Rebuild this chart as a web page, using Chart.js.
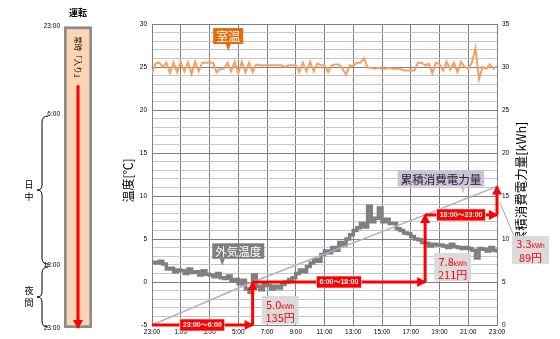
<!DOCTYPE html>
<html><head><meta charset="utf-8">
<script src="https://cdn.jsdelivr.net/npm/chart.js@4.4.0/dist/chart.umd.min.js"></script>
<style>
html,body{margin:0;padding:0;background:#fff;width:560px;height:339px;overflow:hidden}
#pc{position:absolute;left:0;top:0}
#mc{position:absolute;left:110px;top:0}
</style></head><body>
<canvas id="pc" width="110" height="339"></canvas>
<canvas id="mc" width="450" height="339"></canvas>
<script>
// ---------- data ----------
const xTickLabels = ['23:00','1:00','3:00','5:00','7:00','9:00','11:00','13:00','15:00','17:00','19:00','21:00','23:00'];
// 15-minute samples starting 23:00
const roomTemp = [24.3,25.4,25.5,25.0, 25.5,24.3,25.5,24.4, 25.6,24.5,25.5,24.2, 25.6,24.5,25.5,25.5,
  25.5,25.5,24.4,24.8, 24.8,25.5,24.5,25.6, 24.3,25.6,24.4,25.5, 24.4,25.3,25.2,25.2,
  25.2,25.2,25.2,25.2, 25.2,25.0,25.2,25.2, 25.2,24.4,25.5,24.5, 25.6,24.5,25.4,25.2,
  25.2,24.4,25.2,25.3, 25.3,24.8,24.1,25.2, 25.1,25.5,25.5,26.0, 24.9,24.9,24.8,24.9,
  24.8,24.8,24.9,24.8, 24.8,24.8,24.6,24.6, 24.6,24.6,25.5,25.5, 25.2,25.4,24.3,25.5,
  25.3,24.6,25.6,24.7, 25.5,24.4,25.6,25.0, 24.8,25.5,27.2,23.6, 25.0,24.8,25.3,24.8, 25.1];
const outdoorTemp = [2.3,2.2,2.4,2.1, 1.5,1.6,1.2,1.4, 1.3,1.0,1.5,1.1, 1.2,0.8,1.3,0.9,
  0.8,0.6,1.0,0.5, 0.4,0.7,0.1,0.3, -0.2,0.2,-0.8,-1.2, 0.8,-0.5,-0.9,-0.3,
  -0.4,-0.8,-0.5,-0.7, -0.3,0.0,0.3,0.5, 1.0,1.4,1.2,1.8, 2.2,2.6,2.4,3.2,
  3.6,3.4,4.0,3.7, 4.6,4.3,5.0,5.5, 6.0,6.3,6.8,6.4, 8.8,7.0,7.4,8.6,
  7.0,7.3,6.8,6.8, 6.2,6.0,5.7,5.6, 5.3,5.0,4.9,4.6, 4.5,4.2,4.4,4.3,
  4.3,4.2,4.0,4.4, 4.1,4.0,3.9,4.0, 3.9,3.7,2.8,3.9, 3.8,3.6,4.0,3.7, 3.4];
const periodLabels = ['23:00〜6:00','6:00〜18:00','18:00〜23:00'];
const periodStart = [0, 7, 19];   // hours after 23:00
const periodEnd = [7, 19, 24];
const periodKWh = [5.0, 7.8, 3.3];
const periodCost = [135, 211, 89];
// left panel
const panelTicks = [0, 7, 19, 24];
const panelTickLabels = ['23:00','6:00','18:00','23:00'];
const panelOnSpan = [0, 24];
const panelArrow = [4.7, 24];

// ---------- derived ----------
const cum = [0];
periodKWh.forEach((v,i)=>cum.push(Math.round((cum[i]+v)*10)/10));
const sampleH = i => i/4;
const cjk = "'Noto Sans CJK JP', sans-serif";
const latin = "'Liberation Sans', 'Noto Sans CJK JP', sans-serif";
const RED = '#FF0000';

function arrowHeads(chart){
  const ctx = chart.ctx;
  chart.data.datasets.forEach((ds,i)=>{
    if(!ds.arrowHead) return;
    const pts = chart.getDatasetMeta(i).data;
    const a = pts[pts.length-2], b = pts[pts.length-1];
    const ang = Math.atan2(b.y-a.y, b.x-a.x);
    ctx.save();
    ctx.translate(b.x,b.y); ctx.rotate(ang);
    ctx.fillStyle = ds.borderColor;
    ctx.beginPath(); ctx.moveTo(1,0); ctx.lineTo(-8,-5); ctx.lineTo(-8,5); ctx.closePath(); ctx.fill();
    ctx.restore();
  });
}

// ---------- main chart ----------
const arrowSets = [];
for(let i=0;i<3;i++){
  arrowSets.push({data:[{x:periodStart[i],y:cum[i]},{x:periodEnd[i],y:cum[i]}], yAxisID:'y2',
    borderColor:RED, borderWidth:3, pointRadius:0, clip:false, arrowHead:true});
  arrowSets.push({data:[{x:periodEnd[i],y:cum[i]},{x:periodEnd[i],y:cum[i+1]}], yAxisID:'y2',
    borderColor:RED, borderWidth:3, pointRadius:0, clip:false, arrowHead:true});
}

const seriesTags = [
  {text:'室温', axis:'y', x:5.3, y:28.6, bg:'#E46C0A', fg:'#fff', size:12, tail:0},
  {text:'外気温度', axis:'y', x:6.0, y:3.6, bg:'#7F7F7F', fg:'#fff', size:11.5, tail:-16},
  {text:'累積消費電力量', axis:'y2', x:20.1, y:17.0, bg:'#CCC0DA', fg:'#222', size:11.5, tail:22}
];
const calloutPos = [{dx:9,dy:-15},{dx:9,dy:-15},{dx:15,dy:35}];

const mainPlugin = {
  id:'mainDeco',
  afterDatasetsDraw(chart){
    const ctx = chart.ctx, xs = chart.scales.x, ys = chart.scales.y, y2 = chart.scales.y2;
    const ca = chart.chartArea;
    arrowHeads(chart);
    ctx.save();
    // axis titles (both read bottom-to-top)
    ctx.fillStyle='#000'; ctx.textAlign='center'; ctx.textBaseline='middle';
    const mid = (ca.top+ca.bottom)/2;
    ctx.save(); ctx.translate(ca.left-24, mid+6); ctx.rotate(-Math.PI/2);
    ctx.font = "12px "+cjk; ctx.fillText('温度[℃]',0,0); ctx.restore();
    ctx.save(); ctx.translate(ca.right+24, mid+8); ctx.rotate(-Math.PI/2);
    ctx.font = "12.5px "+cjk; ctx.fillText('累積消費電力量[kWh]',0,0); ctx.restore();
    // period labels on arrows
    ctx.textAlign='center'; ctx.textBaseline='middle';
    for(let i=0;i<3;i++){
      const cx = xs.getPixelForValue((periodStart[i]+periodEnd[i])/2);
      const cy = y2.getPixelForValue(cum[i]);
      ctx.font = "bold 7px "+latin;
      const w = ctx.measureText(periodLabels[i]).width + 6;
      ctx.fillStyle = RED; ctx.fillRect(cx-w/2, cy-6, w, 12);
      ctx.strokeStyle='#fff'; ctx.lineWidth=0.6; ctx.strokeRect(cx-w/2, cy-6, w, 12);
      ctx.fillStyle = '#fff'; ctx.fillText(periodLabels[i], cx, cy+0.5);
    }
    // callouts
    for(let i=0;i<3;i++){
      const p = calloutPos[i];
      const left = xs.getPixelForValue(periodEnd[i]) + p.dx;
      const cy = y2.getPixelForValue(cum[i]) + p.dy;
      const w = 37, h = 28;
      if(i===2){
        ctx.strokeStyle='#A6A6A6'; ctx.lineWidth=1;
        ctx.beginPath(); ctx.moveTo(xs.getPixelForValue(periodEnd[i])+3, y2.getPixelForValue(cum[i])-12);
        ctx.lineTo(left+2, cy-h/2); ctx.stroke();
      }
      ctx.fillStyle='rgba(217,217,217,0.95)'; ctx.fillRect(left, cy-h/2, w, h);
      ctx.fillStyle=RED; ctx.textBaseline='alphabetic'; ctx.textAlign='left';
      const t1 = periodKWh[i].toFixed(1);
      ctx.font = "11px "+cjk; const w1 = ctx.measureText(t1).width;
      ctx.font = "6.5px "+latin; const w2 = ctx.measureText('kWh').width;
      let sx = left + (w-w1-w2)/2;
      ctx.font = "11px "+cjk; ctx.fillText(t1, sx, cy-1.5);
      ctx.font = "6.5px "+latin; ctx.fillText('kWh', sx+w1, cy-1.5);
      ctx.font = "11px "+cjk; ctx.textAlign='center';
      ctx.fillText(periodCost[i]+'円', left+w/2, cy+12);
    }
    // series tags
    seriesTags.forEach(t=>{
      const sc = t.axis==='y'?ys:y2;
      const cx = xs.getPixelForValue(t.x), cy = sc.getPixelForValue(t.y);
      ctx.font = t.size+"px "+cjk;
      const w = ctx.measureText(t.text).width + 6, h = t.size + 4;
      ctx.fillStyle = t.bg;
      ctx.fillRect(cx-w/2, cy-h/2, w, h);
      ctx.beginPath(); ctx.moveTo(cx+t.tail-2.5, cy+h/2); ctx.lineTo(cx+t.tail+2.5, cy+h/2); ctx.lineTo(cx+t.tail, cy+h/2+7); ctx.closePath(); ctx.fill();
      ctx.fillStyle = t.fg; ctx.textAlign='center'; ctx.textBaseline='middle';
      ctx.fillText(t.text, cx, cy+0.5);
    });
    ctx.restore();
  }
};

new Chart(document.getElementById('mc'), {
  type:'line',
  data:{datasets:[
    ...arrowSets,
    {data:cum.map((v,i)=>({x:[0,...periodEnd][i], y:v})), yAxisID:'y2', borderColor:'#B7A9CC', borderWidth:1.5, pointRadius:0},
    {data:outdoorTemp.map((v,i)=>({x:sampleH(i), y:v})), yAxisID:'y', borderColor:'#7F7F7F', borderWidth:3.5, pointRadius:0, stepped:true},
    {data:roomTemp.map((v,i)=>({x:sampleH(i), y:v})), yAxisID:'y', borderColor:'#F5A063', borderWidth:2, pointRadius:0}
  ]},
  options:{
    responsive:false, animation:false, devicePixelRatio:1,
    layout:{padding:{top:24,right:27,bottom:0,left:0}},
    plugins:{legend:{display:false}, tooltip:{enabled:false}},
    scales:{
      x:{type:'linear', min:0, max:24,
        ticks:{stepSize:2, autoSkip:false, maxRotation:0, callback:v=>xTickLabels[v/2], font:{size:6.5,family:latin}, color:'#000', padding:3},
        grid:{color:'#808080', drawTicks:false}, border:{color:'#808080'},
        afterFit(s){s.height=14;}},
      y:{min:-5, max:30,
        ticks:{stepSize:1, autoSkip:false, callback:v=>v%5===0?String(v):'', font:{size:6.5,family:latin}, color:'#000', padding:5},
        grid:{color:c=>(c.tick && c.tick.value%5===0)?'#808080':'#C6C6C6', drawTicks:false}, border:{color:'#808080'},
        afterFit(s){s.width=42;}},
      y2:{position:'right', min:0, max:35,
        ticks:{stepSize:5, font:{size:6.5,family:latin}, color:'#000', padding:5},
        grid:{drawOnChartArea:false, drawTicks:false}, border:{color:'#808080'},
        afterFit(s){s.width=36;}}
    }
  },
  plugins:[mainPlugin]
});

// ---------- left panel ----------
const panelPlugin = {
  id:'panelDeco',
  afterDatasetsDraw(chart){
    const ctx = chart.ctx, ys = chart.scales.y, xs = chart.scales.x;
    arrowHeads(chart);
    const cx = xs.getPixelForValue(0);
    ctx.save();
    ctx.fillStyle='#000';
    ctx.translate(cx, ys.getPixelForValue(2.6)); ctx.rotate(Math.PI/2);
    ctx.font = "7.5px "+cjk; ctx.textAlign='center'; ctx.textBaseline='middle';
    ctx.fillText('常時「入り」',0,0);
    ctx.restore();
    // braces
    const braces = [[7,19,'日','中'],[19,24,'夜','間']];
    ctx.save(); ctx.strokeStyle='#000'; ctx.lineWidth=1;
    braces.forEach(b=>{
      const t = ys.getPixelForValue(b[0])+2, e = ys.getPixelForValue(b[1])-1, m=(t+e)/2;
      const xr=48, xm=42, xt=37;
      ctx.beginPath();
      ctx.moveTo(xr,t); ctx.quadraticCurveTo(xm,t,xm,t+6);
      ctx.lineTo(xm,m-5); ctx.quadraticCurveTo(xm,m,xt,m);
      ctx.quadraticCurveTo(xm,m,xm,m+5); ctx.lineTo(xm,e-6);
      ctx.quadraticCurveTo(xm,e,xr,e); ctx.stroke();
      ctx.fillStyle='#000'; ctx.font="9px "+cjk; ctx.textAlign='center'; ctx.textBaseline='middle';
      ctx.fillText(b[2],29,m-6); ctx.fillText(b[3],29,m+6);
    });
    ctx.restore();
  }
};

new Chart(document.getElementById('pc'), {
  type:'bar',
  data:{labels:['運転'], datasets:[
    {type:'line', data:[{x:'運転',y:panelArrow[0]},{x:'運転',y:panelArrow[1]}], borderColor:RED, borderWidth:3, pointRadius:0, clip:false, arrowHead:true},
    {data:[panelOnSpan], backgroundColor:'#FCD5B5', borderColor:'#8C8C8C', borderWidth:3, borderSkipped:false, barPercentage:1, categoryPercentage:1}
  ]},
  options:{
    responsive:false, animation:false, devicePixelRatio:1,
    layout:{padding:{top:0,right:18,bottom:11,left:0}},
    plugins:{legend:{display:false}, tooltip:{enabled:false}},
    scales:{
      x:{position:'top', grid:{display:false}, border:{display:false},
        ticks:{font:{size:9,weight:'bold',family:cjk}, color:'#000', padding:0},
        afterFit(s){s.height=26;}},
      y:{reverse:true, min:0, max:24, z:1,
        afterBuildTicks(s){s.ticks = panelTicks.map(v=>({value:v}));},
        ticks:{autoSkip:false, callback:(v,i)=>panelTickLabels[i], font:{size:6.5,family:latin}, color:'#000', padding:1},
        grid:{color:c=>(c.tick && (c.tick.value===7||c.tick.value===19))?'#808080':'rgba(0,0,0,0)', tickLength:3, tickColor:'rgba(0,0,0,0)'},
        border:{display:false},
        afterFit(s){s.width=64;}}
    }
  },
  plugins:[panelPlugin]
});
</script>
</body></html>
